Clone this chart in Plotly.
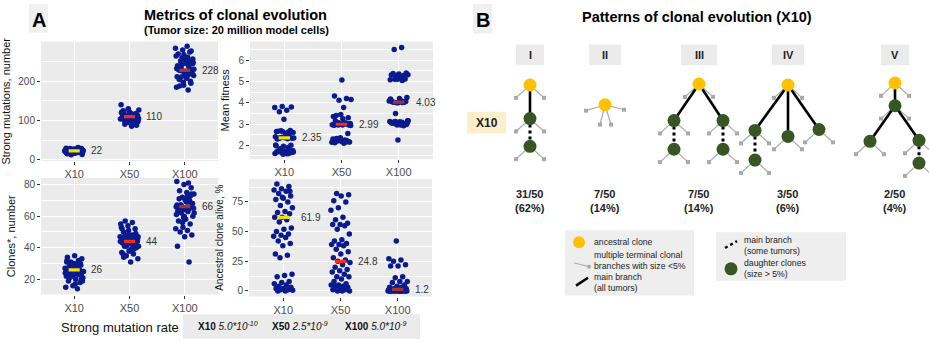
import plotly.graph_objects as go

W, H = 929, 344
FONT = "Liberation Sans, Arial, sans-serif"

# ---------------- Panel A data ----------------
groups = ["X10", "X50", "X100"]
median_colors = ["#f2e600", "#ff2a12", "#a8322d"]
point_color = "#0a1a8f"

mutations_x10 = [22, 21, 23, 24, 20, 19, 25, 26, 18, 17, 22, 23, 21, 20, 24, 27, 28, 16, 15, 22,
                 21, 23, 25, 19, 18, 26, 29, 30, 14, 13, 22, 24, 20, 21, 23, 22, 25, 19, 27, 17,
                 31, 12, 22, 20, 24, 23, 21, 26, 18, 28]
mutations_x50 = [110, 108, 112, 105, 115, 100, 118, 95, 120, 102, 107, 113, 98, 125, 111, 109, 104,
                 116, 90, 88, 122, 106, 114, 99, 101, 117, 119, 103, 130, 140, 112, 108, 96, 94, 115,
                 111, 109, 127, 85, 105, 113, 107, 121, 110, 100, 97, 118, 123, 92, 106]
mutations_x100 = [228, 230, 225, 240, 250, 260, 215, 210, 205, 195, 190, 185, 178, 235, 245, 255, 270,
                  275, 280, 285, 290, 232, 222, 218, 212, 238, 242, 248, 226, 229, 200, 198, 265, 262,
                  252, 220, 224, 236, 244, 227, 231, 208, 188, 278, 268, 233, 217, 211, 257, 246]
mutations_medians = [22, 110, 228]

fitness_x10 = [3.82, 3.78, 3.65, 3.58, 3.8, 3.22, 2.65, 2.62, 2.68, 2.6, 2.55, 2.66, 2.7, 2.64, 2.4,
               2.38, 2.35, 2.33, 2.36, 2.3, 2.42, 2.37, 2.34, 2.39, 2.32, 2.0, 1.95, 1.98, 1.9, 1.85,
               1.75, 1.72, 1.7, 1.68, 1.65, 1.62, 1.6, 1.73, 1.66, 1.64, 1.7, 1.61, 1.67, 1.69, 1.63,
               1.74, 1.71, 1.58, 2.02, 2.31]
fitness_x50 = [5.07, 4.32, 4.2, 4.12, 4.15, 3.78, 3.4, 3.3, 3.45, 3.35, 3.05, 3.0, 2.98, 2.95, 3.02,
               3.0, 2.99, 2.97, 3.01, 3.03, 2.96, 3.0, 2.94, 3.04, 3.06, 2.93, 3.0, 2.98, 2.55, 2.35,
               2.3, 2.25, 2.2, 2.15, 2.18, 2.12, 2.22, 2.28, 2.14, 2.1, 2.32, 2.17, 2.2, 2.25, 2.16,
               2.95, 3.02, 3.25, 3.15, 2.99]
fitness_x100 = [6.6, 6.5, 5.4, 5.35, 5.3, 5.28, 5.25, 5.32, 5.22, 5.38, 5.12, 5.1, 5.08, 5.05, 5.1,
                4.25, 4.2, 4.05, 4.02, 4.0, 4.08, 4.1, 4.03, 4.06, 4.0, 4.12, 4.04, 3.5, 3.15, 3.1,
                3.05, 3.0, 2.95, 3.12, 3.08, 3.02, 2.98, 3.1, 3.05, 2.92, 3.0, 3.15, 2.96, 3.08, 3.02,
                2.25, 4.18, 4.01, 3.12, 3.04]
fitness_medians = [2.35, 2.99, 4.03]

clones_x10 = [26, 25, 27, 28, 24, 23, 30, 31, 32, 22, 21, 20, 19, 18, 16, 15, 14, 29, 33, 35, 34, 26,
              27, 25, 24, 28, 29, 23, 22, 30, 31, 19, 17, 26, 25, 27, 24, 28, 21, 20, 26, 32, 23, 29,
              25, 27, 22, 30, 24, 26]
clones_x50 = [44, 43, 45, 42, 46, 47, 48, 41, 40, 38, 37, 36, 35, 33, 31, 50, 52, 54, 55, 56, 57, 44,
              45, 43, 46, 42, 41, 39, 47, 49, 51, 53, 44, 43, 45, 38, 36, 40, 48, 44, 42, 46, 43, 45,
              52, 39, 41, 47, 44, 34]
clones_x100 = [66, 65, 67, 68, 64, 63, 70, 72, 74, 75, 76, 78, 80, 82, 81, 62, 60, 58, 57, 55, 53, 52,
               51, 50, 48, 47, 41, 31, 66, 65, 69, 71, 73, 59, 61, 63, 67, 68, 70, 64, 65, 56, 62, 72,
               66, 74, 60, 67, 69, 64]
clones_medians = [26, 44, 66]

ancestral_x10 = [90, 88, 86, 85, 84, 82, 80, 78, 77, 75, 72, 70, 67, 66, 65, 62, 62, 60, 58, 53, 52,
                 50, 48, 47, 46, 45, 42, 40, 38, 31, 30, 28, 14, 13, 12, 8, 7, 6, 5, 4, 3, 2, 2, 1, 1,
                 0.5, 0, 0, 84, 79]
ancestral_x50 = [82, 81, 80, 76, 75, 70, 68, 62, 60, 57, 56, 56, 55, 52, 48, 43, 42, 40, 39, 39, 38,
                 35, 33, 31, 28, 26, 25, 24, 22, 20, 18, 17, 16, 14, 12, 12, 10, 8, 6, 5, 5, 4, 4, 3,
                 2, 1, 1, 0, 0, 0]
ancestral_x100 = [42, 27, 26, 25, 22, 21, 21, 12, 11, 8, 8, 7, 5, 4, 3, 3, 2, 2, 1, 1, 1, 1, 0.5, 0.5,
                  0.5, 0, 0, 0, 0, 0, 0, 0, 0, 1, 2, 1, 0, 0, 0.5, 0, 0, 1.5, 0.2, 0, 0, 1, 0, 0.3, 0, 0]
ancestral_medians = [61.9, 24.8, 1.2]

# ---------------- Panel B data ----------------
tree_labels = ["I", "II", "III", "IV", "V"]
tree_counts = ["31/50", "7/50", "7/50", "3/50", "2/50"]
tree_percents = ["(62%)", "(14%)", "(14%)", "(6%)", "(4%)"]


def px_x(p):
    return p / W


def px_y(p):
    return 1 - p / H


def paper_text(xp, yp, text, size, color="#111111", xanchor="center"):
    fig.add_annotation(x=px_x(xp), y=px_y(yp), xref="paper", yref="paper", text=text,
                       showarrow=False, xanchor=xanchor, yanchor="middle",
                       font=dict(size=size, color=color, family=FONT))


fig = go.Figure()

# ---- panel A subplot layout (pixel boxes: left, right, top, bottom) ----
panels = [
    dict(ax="", box=(41, 218, 42, 163), data=[mutations_x10, mutations_x50, mutations_x100],
         med=mutations_medians, title="Strong mutations, number", rng=[-4, 302],
         ticks=[0, 100, 200], minor=50, tsize=11),
    dict(ax="2", box=(250, 433, 42, 161), data=[fitness_x10, fitness_x50, fitness_x100],
         med=fitness_medians, title="Mean fitness", rng=[1.35, 6.88],
         ticks=[2, 3, 4, 5, 6], minor=0.5, tsize=11),
    dict(ax="3", box=(41, 218, 180, 298), data=[clones_x10, clones_x50, clones_x100],
         med=clones_medians, title="Clones*, number", rng=[10.4, 84.2],
         ticks=[20, 40, 60, 80], minor=10, tsize=11),
    dict(ax="4", box=(249, 432, 181, 300), data=[ancestral_x10, ancestral_x50, ancestral_x100],
         med=ancestral_medians, title="Ancestral clone alive, %", rng=[-4.75, 94.4],
         ticks=[0, 25, 50, 75], minor=12.5, tsize=10),
]

GOLD = 0.6180339887
for pi, p in enumerate(panels):
    xa, ya = "x" + p["ax"], "y" + p["ax"]
    for gi, vals in enumerate(p["data"]):
        seed = 0.13 * (pi * 3 + gi)
        xs = [gi + 1 + (((k * GOLD + seed) % 1.0) - 0.5) * 0.34 for k in range(len(vals))]
        fig.add_trace(go.Scatter(x=xs, y=vals, mode="markers", xaxis=xa, yaxis=ya,
                                 marker=dict(size=5.5, color=point_color, line=dict(width=0)),
                                 showlegend=False, hoverinfo="skip"))
        m = p["med"][gi]
        fig.add_trace(go.Scatter(x=[gi + 1 - 0.1, gi + 1 + 0.1], y=[m, m], mode="lines",
                                 xaxis=xa, yaxis=ya, line=dict(color=median_colors[gi], width=3.2),
                                 showlegend=False, hoverinfo="skip"))
        fig.add_annotation(x=gi + 1.27, y=m, xref=xa, yref=ya, text=str(m), showarrow=False,
                           xanchor="left", yanchor="middle",
                           font=dict(size=10, color="#333333", family=FONT))
    l, r, t, b = p["box"]
    xkey = "xaxis" + p["ax"]
    ykey = "yaxis" + p["ax"]
    fig.update_layout(**{
        xkey: dict(domain=[px_x(l), px_x(r)], range=[0.4, 3.6], anchor=ya,
                   tickvals=[1, 2, 3], ticktext=groups, showgrid=True, gridcolor="white",
                   gridwidth=1.2, zeroline=False, ticks="outside", ticklen=3, tickcolor="#333333",
                   tickfont=dict(size=11, color="#4d4d4d", family=FONT), showline=False),
        ykey: dict(domain=[px_y(b), px_y(t)], range=p["rng"], anchor=xa,
                   tickvals=p["ticks"], showgrid=True, gridcolor="white", gridwidth=1.2,
                   zeroline=False, ticks="outside", ticklen=3, tickcolor="#333333",
                   tickfont=dict(size=10, color="#4d4d4d", family=FONT),
                   minor=dict(dtick=p["minor"], tick0=0, showgrid=True, gridcolor="white",
                              gridwidth=0.6, ticks=""),
                   title=dict(text=p["title"], standoff=6,
                              font=dict(size=p["tsize"], color="#111111", family=FONT))),
    })
    fig.add_shape(type="rect", xref="paper", yref="paper", x0=px_x(l), x1=px_x(r),
                  y0=px_y(b), y1=px_y(t), fillcolor="#ebebeb", line=dict(width=0), layer="below")

# ---- panel A headings ----
fig.add_shape(type="rect", xref="paper", yref="paper", x0=px_x(29), x1=px_x(48), y0=px_y(33),
              y1=px_y(4), fillcolor="#f0f0f0", line=dict(width=0), layer="below")
paper_text(38.5, 20, "<b>A</b>", 20, "black")
paper_text(235, 15, "<b>Metrics of clonal evolution</b>", 14.5, "black")
paper_text(236, 30, "<b>(Tumor size: 20 million model cells)</b>", 11, "black")

# ---- mutation rate strip ----
rate_labels = ["<b>X10</b> <i>5.0*10<sup>-10</sup></i>", "<b>X50</b> <i>2.5*10<sup>-9</sup></i>",
               "<b>X100</b> <i>5.0*10<sup>-9</sup></i>"]
rate_pos = [196, 270, 343]
paper_text(120, 331, "Strong mutation rate", 13)
fig.add_shape(type="rect", xref="paper", yref="paper", x0=px_x(183), x1=px_x(420), y0=px_y(343),
              y1=px_y(318), fillcolor="#ebebeb", line=dict(width=0), layer="below")
for txt, xp in zip(rate_labels, rate_pos):
    paper_text(xp, 330, txt, 10, xanchor="left")

# ---------------- Panel B: trees ----------------
fig.update_layout(
    xaxis5=dict(domain=[px_x(440), 1], range=[440, 929], visible=False, fixedrange=True,
                anchor="y5"),
    yaxis5=dict(domain=[0, 1], range=[344, 0], visible=False, fixedrange=True, anchor="x5"),
)

ANC, DAU = "#ffc000", "#375623"
TWIG = "#a9a9a9"
default_twigs = [(-14, 13), (14, 13)]

# node: name -> (dx, y, colour); edges: (parent, child, style)
trees = [
    dict(cx=530, nodes={"a": (0, 86, ANC), "d1": (0, 120, DAU), "d2": (0, 148, DAU)},
         edges=[("a", "d1", "solid"), ("d1", "d2", "dot")], twigs={}),
    dict(cx=605, nodes={"a": (0, 106, ANC)}, edges=[],
         twigs={"a": [(-19, 6), (19, 5), (-5, 20), (6, 20)]}),
    dict(cx=699, nodes={"a": (0, 85, ANC), "l": (-25, 122, DAU), "r": (24, 122, DAU),
                        "l2": (-25, 151, DAU), "r2": (24, 151, DAU)},
         edges=[("a", "l", "solid"), ("a", "r", "solid"), ("l", "l2", "dot"), ("r", "r2", "dot")],
         twigs={}),
    dict(cx=788, nodes={"a": (0, 86, ANC), "l": (-33, 132, DAU), "m": (0, 138, DAU),
                        "r": (31, 131, DAU), "l2": (-33, 162, DAU)},
         edges=[("a", "l", "solid"), ("a", "m", "solid"), ("a", "r", "solid"), ("l", "l2", "dot")],
         twigs={}),
    dict(cx=895, nodes={"a": (0, 84, ANC), "d": (0, 107, DAU), "l": (-25, 143, DAU),
                        "r": (24, 142, DAU), "r2": (24, 165, DAU)},
         edges=[("a", "d", "solid"), ("d", "l", "solid"), ("d", "r", "solid"), ("r", "r2", "dot")],
         twigs={}),
]

for tree, lab, cnt, pct in zip(trees, tree_labels, tree_counts, tree_percents):
    cx = tree["cx"]
    pos = {k: (cx + v[0], v[1]) for k, v in tree["nodes"].items()}
    tx, ty, ex, ey = [], [], [], []
    for k, (x, y) in pos.items():
        for dx, dy in tree["twigs"].get(k, default_twigs):
            tx += [x, x + dx, None]
            ty += [y, y + dy, None]
            ex.append(x + dx)
            ey.append(y + dy)
    fig.add_trace(go.Scatter(x=tx, y=ty, mode="lines", xaxis="x5", yaxis="y5",
                             line=dict(color=TWIG, width=1.2), showlegend=False, hoverinfo="skip"))
    fig.add_trace(go.Scatter(x=ex, y=ey, mode="markers", xaxis="x5", yaxis="y5",
                             marker=dict(symbol="square", size=4, color=TWIG),
                             showlegend=False, hoverinfo="skip"))
    for a, b, style in tree["edges"]:
        fig.add_trace(go.Scatter(x=[pos[a][0], pos[b][0]], y=[pos[a][1], pos[b][1]], mode="lines",
                                 xaxis="x5", yaxis="y5",
                                 line=dict(color="black", width=3 if style == "dot" else 2.6,
                                           dash="dot" if style == "dot" else "solid"),
                                 showlegend=False, hoverinfo="skip"))
    for k, (x, y) in pos.items():
        fig.add_trace(go.Scatter(x=[x], y=[y], mode="markers", xaxis="x5", yaxis="y5",
                                 marker=dict(size=13, color=tree["nodes"][k][2], line=dict(width=0)),
                                 showlegend=False, hoverinfo="skip"))
    # column header box
    half = 13 + 2 * len(lab)
    fig.add_shape(type="rect", xref="x5", yref="y5", x0=cx - half + 1, x1=cx + half - 1, y0=45,
                  y1=66, fillcolor="#ebebeb", line=dict(width=0), layer="below")
    fig.add_annotation(x=cx, y=56, xref="x5", yref="y5", text="<b>%s</b>" % lab, showarrow=False,
                       font=dict(size=11, color="#222222", family=FONT))
    fig.add_annotation(x=cx, y=203, xref="x5", yref="y5", text="<b>%s<br>%s</b>" % (cnt, pct),
                       showarrow=False, font=dict(size=11, color="#222222", family=FONT))

# panel B headings
fig.add_shape(type="rect", xref="x5", yref="y5", x0=473, x1=492, y0=4, y1=34,
              fillcolor="#f0f0f0", line=dict(width=0), layer="below")
fig.add_annotation(x=482.5, y=20, xref="x5", yref="y5", text="<b>B</b>", showarrow=False,
                   font=dict(size=20, color="black", family=FONT))
fig.add_annotation(x=697, y=17, xref="x5", yref="y5",
                   text="<b>Patterns of clonal evolution (X10)</b>", showarrow=False,
                   font=dict(size=14.5, color="black", family=FONT))
fig.add_shape(type="rect", xref="x5", yref="y5", x0=467, x1=506, y0=113, y1=135,
              fillcolor="#fdefcc", line=dict(width=0), layer="below")
fig.add_annotation(x=486.5, y=124.5, xref="x5", yref="y5", text="<b>X10</b>", showarrow=False,
                   font=dict(size=12, color="#222222", family=FONT))

# ---- panel B key ----
fig.add_shape(type="rect", xref="x5", yref="y5", x0=565, x1=694, y0=233, y1=299,
              fillcolor="#eeeeee", line=dict(width=0), layer="below")
fig.add_shape(type="rect", xref="x5", yref="y5", x0=716, x1=846, y0=235, y1=284,
              fillcolor="#eeeeee", line=dict(width=0), layer="below")
fig.add_trace(go.Scatter(x=[579], y=[245], mode="markers", xaxis="x5", yaxis="y5",
                         marker=dict(size=12, color=ANC), showlegend=False, hoverinfo="skip"))
fig.add_trace(go.Scatter(x=[574, 588], y=[266, 269.5], mode="lines", xaxis="x5", yaxis="y5",
                         line=dict(color=TWIG, width=1), showlegend=False, hoverinfo="skip"))
fig.add_trace(go.Scatter(x=[589], y=[270], mode="markers", xaxis="x5", yaxis="y5",
                         marker=dict(size=4, color=TWIG), showlegend=False, hoverinfo="skip"))
fig.add_trace(go.Scatter(x=[576, 588], y=[289, 281], mode="lines", xaxis="x5", yaxis="y5",
                         line=dict(color="black", width=2.6), showlegend=False, hoverinfo="skip"))
fig.add_trace(go.Scatter(x=[725, 737], y=[251, 244], mode="lines", xaxis="x5", yaxis="y5",
                         line=dict(color="black", width=2.4, dash="dot"), showlegend=False,
                         hoverinfo="skip"))
fig.add_trace(go.Scatter(x=[731], y=[272], mode="markers", xaxis="x5", yaxis="y5",
                         marker=dict(size=13, color=DAU), showlegend=False, hoverinfo="skip"))

key_text = [
    (592, 245, "ancestral clone"),
    (592, 264, "multiple terminal clonal<br>branches with size <5%"),
    (592, 285.5, "main branch<br>(all tumors)"),
    (742, 248, "main branch<br>(some tumors)"),
    (742, 272, "daughter clones<br>(size > 5%)"),
]
for xk, yk, txt in key_text:
    fig.add_annotation(x=xk, y=yk, xref="x5", yref="y5", text=txt, showarrow=False,
                       xanchor="left", yanchor="middle", align="left",
                       font=dict(size=8.7, color="#222222", family=FONT))

fig.update_layout(width=W, height=H, margin=dict(l=0, r=0, t=0, b=0),
                  paper_bgcolor="white", plot_bgcolor="rgba(0,0,0,0)",
                  font=dict(family=FONT), showlegend=False)

fig.write_html("out.html")
